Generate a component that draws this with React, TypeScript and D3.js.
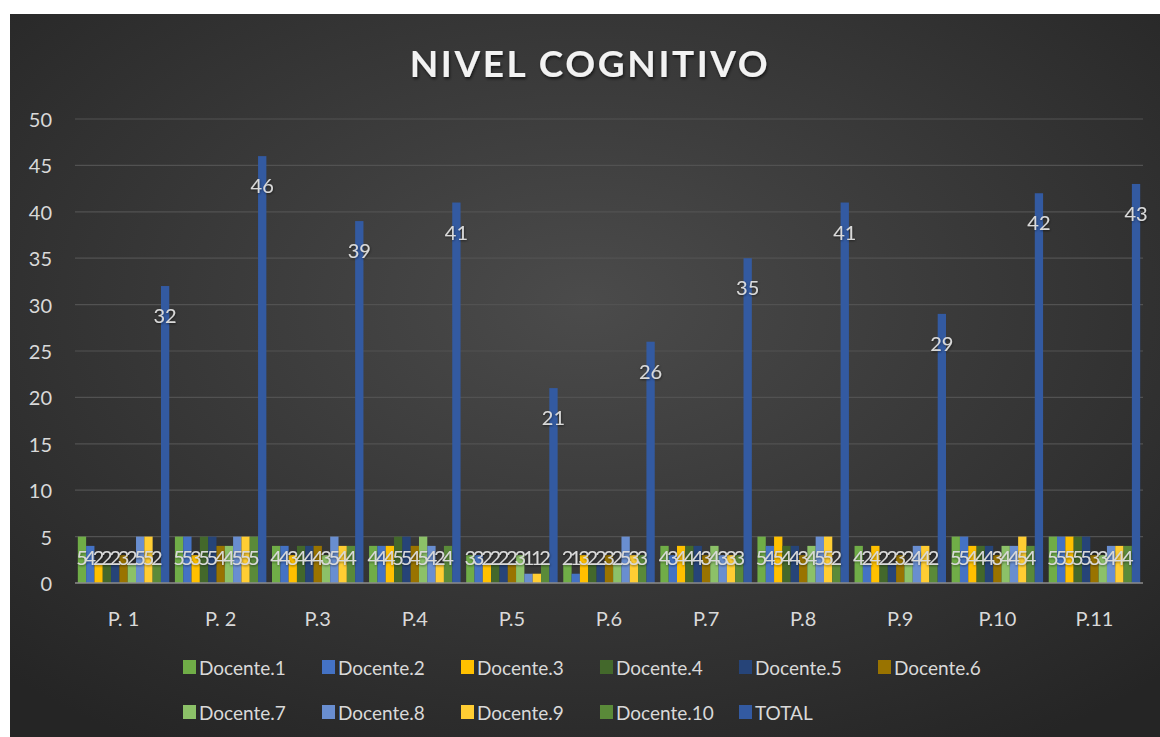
import React from "react";
import * as d3 from "d3";

const categories = ["P. 1", "P. 2", "P.3", "P.4", "P.5", "P.6", "P.7", "P.8", "P.9", "P.10", "P.11"];
const seriesNames = ["Docente.1", "Docente.2", "Docente.3", "Docente.4", "Docente.5", "Docente.6", "Docente.7", "Docente.8", "Docente.9", "Docente.10", "TOTAL"];
const docente1 = [5, 5, 4, 4, 3, 2, 4, 5, 4, 5, 5];
const docente2 = [4, 5, 4, 4, 3, 1, 3, 4, 2, 5, 5];
const docente3 = [2, 3, 3, 4, 2, 3, 4, 5, 4, 4, 5];
const docente4 = [2, 5, 4, 5, 2, 2, 4, 4, 2, 4, 5];
const docente5 = [2, 5, 4, 5, 2, 2, 4, 4, 2, 4, 5];
const docente6 = [3, 4, 4, 4, 2, 3, 3, 3, 3, 3, 3];
const docente7 = [2, 4, 3, 5, 3, 2, 4, 4, 2, 4, 3];
const docente8 = [5, 5, 5, 4, 1, 5, 3, 5, 4, 4, 4];
const docente9 = [5, 5, 4, 2, 1, 3, 3, 5, 4, 5, 4];
const docente10 = [2, 5, 4, 4, 2, 3, 3, 2, 2, 4, 4];
const total = [32, 46, 39, 41, 21, 26, 35, 41, 29, 42, 43];
const yTicks = [0, 5, 10, 15, 20, 25, 30, 35, 40, 45, 50];
const colors = ["#70ad47", "#4472c4", "#ffc000", "#43682b", "#264478", "#997300", "#8cc168", "#698ed0", "#ffcd33", "#5a8a39", "#335aa1"];

const seriesValues = [docente1, docente2, docente3, docente4, docente5, docente6, docente7, docente8, docente9, docente10, total];

const W = 1160;
const H = 737;
const left = 75;
const right = 1143;
const top = 119;
const bottom = 583;
const font = "Lato, 'Open Sans', sans-serif";

export default function App() {
  const x0 = d3.scaleBand<string>().domain(categories).range([left, right]).paddingInner(0.058).paddingOuter(0.029);
  const x1 = d3.scaleBand<string>().domain(seriesNames).range([0, x0.bandwidth()]).padding(0);
  const y = d3.scaleLinear().domain([0, 50]).range([bottom, top]);

  return (
    <svg width={W} height={H} style={{ position: "absolute", left: 0, top: 0 }}>
      <defs>
        <radialGradient id="bg" cx="50%" cy="40%" r="72%">
          <stop offset="0%" stopColor="#4b4b4b" />
          <stop offset="100%" stopColor="#252525" />
        </radialGradient>
        <filter id="ts" x="-20%" y="-20%" width="140%" height="160%">
          <feDropShadow dx="1" dy="2" stdDeviation="1.5" floodColor="#000" floodOpacity="0.6" />
        </filter>
        <filter id="ls" x="-20%" y="-20%" width="140%" height="160%">
          <feDropShadow dx="0.5" dy="1" stdDeviation="0.8" floodColor="#000" floodOpacity="0.5" />
        </filter>
      </defs>
      <rect x={10} y={14} width={W - 10} height={H - 14} fill="url(#bg)" />
      <text x={590} y={62} textAnchor="middle" dominantBaseline="central" fill="#f2f2f2" fontFamily={font} fontWeight={700} fontSize={37} letterSpacing={2.6} filter="url(#ts)">
        NIVEL COGNITIVO
      </text>
      {yTicks.map((t) => (
        <g key={t}>
          {t > 0 && <line x1={left} x2={right} y1={y(t)} y2={y(t)} stroke="#525252" strokeWidth={1.2} />}
          <text x={52} y={y(t)} textAnchor="end" dominantBaseline="central" fill="#d9d9d9" fontFamily={font} fontSize={20}>
            {t}
          </text>
        </g>
      ))}
      {categories.map((c, ci) => (
        <g key={c} transform={`translate(${x0(c)},0)`}>
          {seriesNames.map((s, si) => {
            const v = seriesValues[si][ci];
            return (
              <rect key={s} x={x1(s)} y={y(v)} width={x1.bandwidth()} height={y(0) - y(v)} fill={colors[si]} />
            );
          })}
        </g>
      ))}
      <line x1={left} x2={right} y1={y(0)} y2={y(0)} stroke="#8c8c8c" strokeWidth={1.5} />
      {categories.map((c, ci) => (
        <g key={c + "l"} transform={`translate(${x0(c)},0)`} filter="url(#ls)">
          {seriesNames.map((s, si) => {
            const v = seriesValues[si][ci];
            const ly = si === 10 ? y(v) + 29 : y(0) - 26;
            return (
              <text key={s} x={(x1(s) as number) + x1.bandwidth() / 2} y={ly} textAnchor="middle" dominantBaseline="central" fill="#d9d9d9" fontFamily={font} fontSize={20}>
                {v}
              </text>
            );
          })}
        </g>
      ))}
      {categories.map((c) => (
        <text key={c + "x"} x={(x0(c) as number) + x0.bandwidth() / 2} y={618} textAnchor="middle" dominantBaseline="central" fill="#d9d9d9" fontFamily={font} fontSize={20}>
          {c}
        </text>
      ))}
      {seriesNames.map((s, si) => {
        const row = si < 6 ? 0 : 1;
        const col = si < 6 ? si : si - 6;
        const lx = 183 + col * 139;
        const ly = row === 0 ? 667 : 712;
        return (
          <g key={s + "lg"}>
            <rect x={lx} y={ly - 7} width={13} height={14} fill={colors[si]} />
            <text x={lx + 16} y={ly} dominantBaseline="central" fill="#d9d9d9" fontFamily={font} fontSize={19}>
              {s}
            </text>
          </g>
        );
      })}
    </svg>
  );
}
